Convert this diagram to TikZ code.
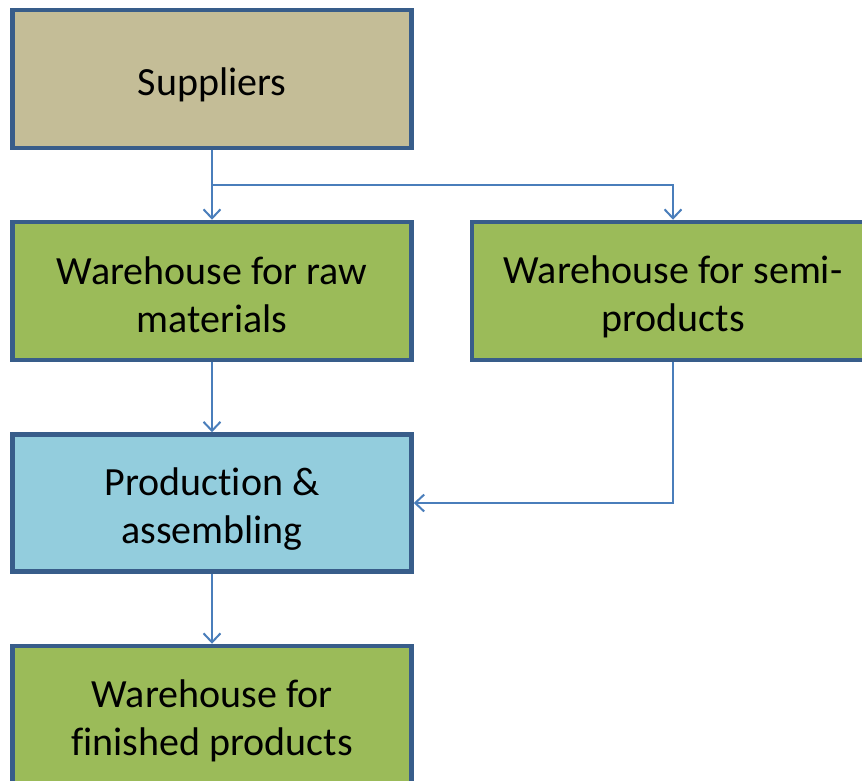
\documentclass[tikz,border=0pt]{standalone}
\usepackage{fontspec}
\setmainfont{Carlito}[Ligatures=NoCommon]
\usetikzlibrary{arrows.meta}
\definecolor{bordc}{HTML}{385D8A}
\definecolor{tanc}{HTML}{C4BD97}
\definecolor{greenc}{HTML}{9BBB59}
\definecolor{bluec}{HTML}{93CDDD}
\definecolor{connc}{HTML}{4A7EBB}
\newcommand\tstrut{\rule[-4.5pt]{0pt}{43.5pt}}
\begin{document}
\begin{tikzpicture}[x=1pt,y=-1pt,
  box/.style={draw=bordc, line width=4.5pt, minimum width=399pt, minimum height=138pt,
    inner sep=0pt, align=center, font=\fontsize{40}{48}\selectfont, text=black},
  conn/.style={draw=connc, line width=2pt, -{Straight Barb[length=9pt,width=17pt]}}]
\useasboundingbox (0,0) rectangle (862,780);
\node[box, fill=tanc] (sup) at (212,79) {\tstrut Suppliers};
\node[box, fill=greenc] (raw) at (212,291) {\tstrut Warehouse for raw\\\tstrut materials};
\node[box, fill=greenc, minimum width=402pt] (semi) at (673,291) {\tstrut Warehouse for semi-\\\tstrut products};
\node[box, fill=bluec, minimum height=137pt] (prod) at (212,503) {\tstrut Production \&\\\tstrut assembling};
\node[box, fill=greenc] (fin) at (212,715) {\tstrut Warehouse for\\\tstrut finished products};
\coordinate (br) at (212,185);
\draw[conn] (sup.south) -- (raw.north);
\draw[conn] (br) -| (semi.north);
\draw[conn] (raw.south) -- (prod.north);
\draw[conn] (semi.south) |- (prod.east);
\draw[conn] (prod.south) -- (fin.north);
\end{tikzpicture}
\end{document}
